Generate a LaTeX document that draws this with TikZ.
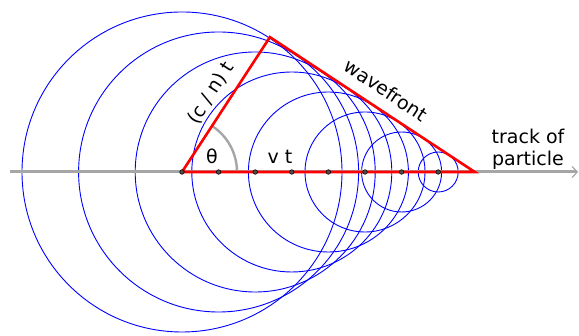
\documentclass[tikz,border=0pt]{standalone}
\usepackage{fontspec}
\setmainfont{DejaVu Sans}
\usetikzlibrary{arrows.meta,calc}
\begin{document}
\begin{tikzpicture}[x=1pt, y=1pt, every node/.style={font=\fontsize{19}{22}\selectfont, inner sep=0pt}]
  \useasboundingbox (0,0) rectangle (579,336);
  \coordinate (O) at (182,164); \coordinate (P) at (474.8,164);
  \coordinate (A) at ($(O)+(56.9:161)$);
  \coordinate (L) at (10,164); \coordinate (R) at (578,164);
  % emitted spherical waves
  \foreach \k in {0,...,7}
    \draw[blue, line width=.9pt] ($(O)+(36.6*\k,0)$) circle ({20*(8-\k)});
  \draw[gray!70, line width=3pt, -{Straight Barb[length=5pt,width=11pt,line width=1.2pt]}] (L) -- (R);
  \draw[gray!70, line width=2.4pt] ($(O)+(55,0)$) arc (0:56.9:55);
  \draw[red, line width=2.6pt, line join=miter] (P) -- (O) -- (A) -- cycle;
  \foreach \k in {0,...,7}
    \filldraw[fill=gray!60!black, draw=black, line width=.5pt] ($(O)+(36.6*\k,0)$) circle (2.3);
  \node at (212,180) {θ};
  \node at (280,179) {v t};
  \node[rotate=56.9] at (211,243) {(c / n) t};
  \node[rotate=-33.4] at (386,246) {wavefront};
  \node[align=center] at (528,187) {track of\\particle};
\end{tikzpicture}
\end{document}
